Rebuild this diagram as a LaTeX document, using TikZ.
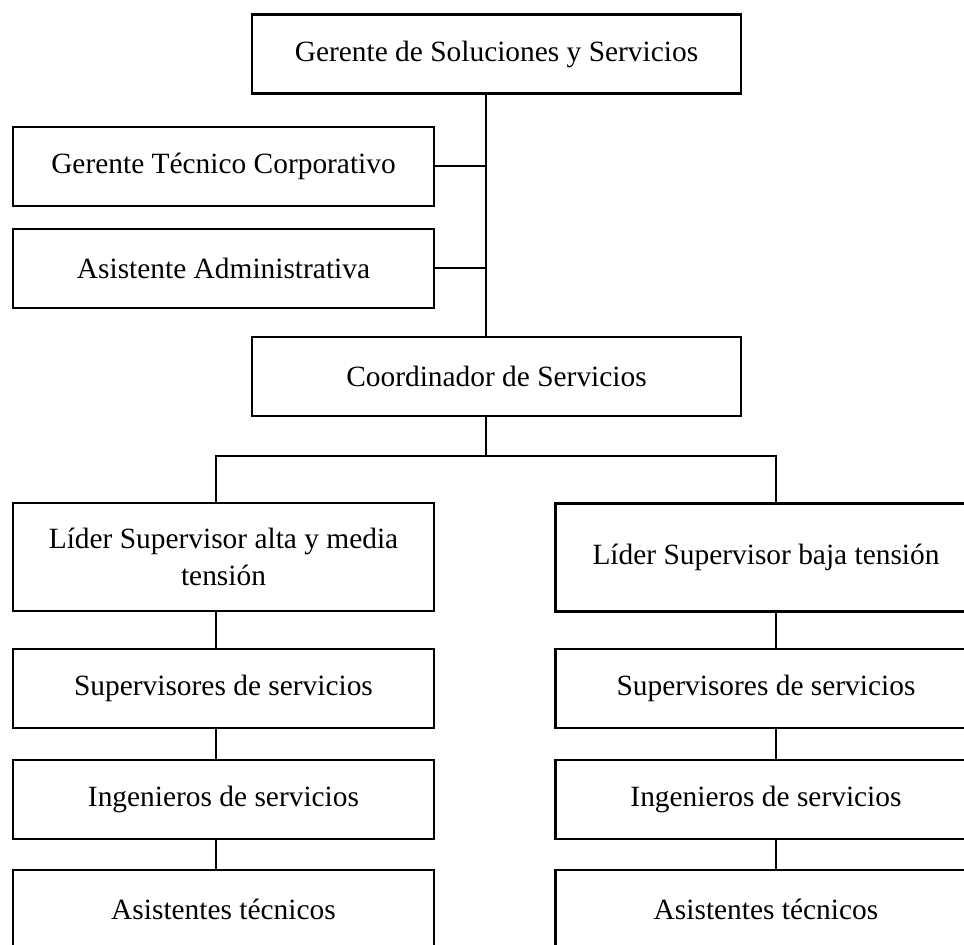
\documentclass[tikz,border=0pt]{standalone}
\usepackage{fontspec}
\setmainfont{Liberation Serif}
\tikzset{caja/.style={draw, line width=1.1pt, inner sep=2pt, minimum width=210.5pt, minimum height=39.5pt, align=center, font=\fontsize{14.7}{18.5}\selectfont},
  linea/.style={line width=1pt}}

\begin{document}
\begin{tikzpicture}[x=0.5pt,y=-0.5pt]
\useasboundingbox (0,0) rectangle (964,945);
\node[caja, minimum width=244.5pt] (gss) at (496.5,54) {Gerente de Soluciones y Servicios};
\node[caja] (gtc) at (223.5,166.5) {Gerente Técnico Corporativo};
\node[caja] (asa) at (223.5,268.5) {Asistente Administrativa};
\node[caja, minimum width=244.5pt] (coord) at (496.5,376.5) {Coordinador de Servicios};
\node[caja, minimum height=54pt] (lid1) at (223.5,557) {Líder Supervisor alta y media\\tensión};
\node[caja, minimum height=54pt] (lid2) at (766,557.5) {Líder Supervisor baja tensión};
\node[caja] (sup1) at (223.5,688.5) {Supervisores de servicios};
\node[caja] (sup2) at (766,688.5) {Supervisores de servicios};
\node[caja] (ing1) at (223.5,799.5) {Ingenieros de servicios};
\node[caja] (ing2) at (766,799.5) {Ingenieros de servicios};
\node[caja] (ast1) at (223.5,909.5) {Asistentes técnicos};
\node[caja] (ast2) at (766,909.5) {Asistentes técnicos};
% lineas
\coordinate (tr) at (486,0);
\coordinate (cl) at (216,0);
\coordinate (cr) at (776,0);
\coordinate (bar) at (0,456);
\draw[linea] (gss.south -| tr) -- (coord.north -| tr);
\draw[linea] (gtc.east) -- (gtc.east -| tr);
\draw[linea] (asa.east) -- (asa.east -| tr);
\draw[linea] (coord.south -| tr) -- (bar -| tr);
\draw[linea] (lid1.north -| cl) |- (bar -| cr) -- (lid2.north -| cr);
\foreach \a/\b in {lid1/sup1, sup1/ing1, ing1/ast1}
  \draw[linea] (\a.south -| cl) -- (\b.north -| cl);
\foreach \a/\b in {lid2/sup2, sup2/ing2, ing2/ast2}
  \draw[linea] (\a.south -| cr) -- (\b.north -| cr);
\end{tikzpicture}
\end{document}
